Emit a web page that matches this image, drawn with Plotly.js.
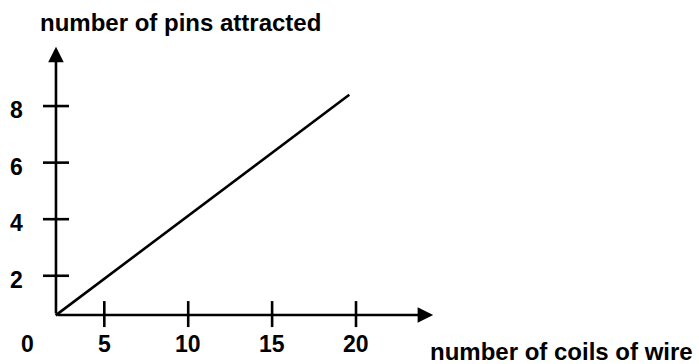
<!DOCTYPE html>
<html>
<head>
<meta charset="utf-8">
<script src="https://cdn.plot.ly/plotly-3.0.1.min.js"></script>
<style>html,body{margin:0;padding:0;background:#fff;}#chart{width:699px;height:364px;}</style>
</head>
<body>
<div id="chart"></div>
<script>
// Data (values on the drawn tick scale)
const coils = [2.1, 19.6];
const pins = [0.6, 8.4];
const xTickVals = [5, 10, 15, 20];
const xTickText = ['5', '10', '15', '20'];
const yTickVals = [2, 4, 6, 8];
const yTickText = ['2', '4', '6', '8'];
const originLabel = '0';
const xTitle = 'number of coils of wire';
const yTitle = 'number of pins attracted';
const axisOrigin = [2.12, 0.61];
const axisEnds = [24.6, 10.1];

const FONT = 'Liberation Sans, Arial, sans-serif';
const shapes = [];
const annotations = [];

// axes with arrows
annotations.push({x: axisEnds[0], y: axisOrigin[1], ax: axisOrigin[0], ay: axisOrigin[1],
  xref: 'x', yref: 'y', axref: 'x', ayref: 'y', text: '', showarrow: true,
  arrowhead: 2, arrowsize: 1.2, arrowwidth: 2.6, arrowcolor: '#000'});
annotations.push({x: axisOrigin[0], y: axisEnds[1], ax: axisOrigin[0], ay: axisOrigin[1],
  xref: 'x', yref: 'y', axref: 'x', ayref: 'y', text: '', showarrow: true,
  arrowhead: 2, arrowsize: 1.2, arrowwidth: 2.6, arrowcolor: '#000'});

// crossing ticks
xTickVals.forEach((v, i) => {
  shapes.push({type: 'line', xref: 'x', yref: 'y', ysizemode: 'pixel', yanchor: axisOrigin[1],
    x0: v, x1: v, y0: -12, y1: 14, line: {color: '#000', width: 2.6}});
  annotations.push({x: v, y: axisOrigin[1], xref: 'x', yref: 'y', yshift: -29, text: '<b>' + xTickText[i] + '</b>',
    showarrow: false, font: {family: FONT, size: 23, color: '#000'}});
});
yTickVals.forEach((v, i) => {
  shapes.push({type: 'line', xref: 'x', yref: 'y', xsizemode: 'pixel', xanchor: axisOrigin[0],
    y0: v, y1: v, x0: -13, x1: 13, line: {color: '#000', width: 2.6}});
  annotations.push({x: axisOrigin[0], y: v, xref: 'x', yref: 'y', xshift: -39, yshift: -4, text: '<b>' + yTickText[i] + '</b>',
    showarrow: false, font: {family: FONT, size: 23, color: '#000'}});
});
annotations.push({x: 27 / 699, y: 1 - 344 / 364, xref: 'paper', yref: 'paper', xanchor: 'center', yanchor: 'middle',
  text: '<b>' + originLabel + '</b>', showarrow: false, font: {family: FONT, size: 23, color: '#000'}});

// titles
annotations.push({x: 38 / 699, y: 1 - 22 / 364, xref: 'paper', yref: 'paper', xanchor: 'left', yanchor: 'middle',
  text: '<b>' + yTitle + '</b>', showarrow: false, font: {family: FONT, size: 24, color: '#000'}});
annotations.push({x: 428 / 699, y: 1 - 351 / 364, xref: 'paper', yref: 'paper', xanchor: 'left', yanchor: 'middle',
  text: '<b>' + xTitle + '</b>', showarrow: false, font: {family: FONT, size: 24, color: '#000'}});

const trace = {x: coils, y: pins, type: 'scatter', mode: 'lines', line: {color: '#000', width: 2.6}, hoverinfo: 'skip'};

const layout = {
  width: 699, height: 364,
  margin: {l: 0, r: 0, t: 0, b: 0},
  paper_bgcolor: '#fff', plot_bgcolor: '#fff',
  showlegend: false,
  xaxis: {range: [-1.216, 40.44], visible: false, fixedrange: true},
  yaxis: {range: [-1.12, 11.75], visible: false, fixedrange: true},
  shapes: shapes,
  annotations: annotations
};
Plotly.newPlot('chart', [trace], layout, {staticPlot: true, displayModeBar: false});
</script>
</body>
</html>
